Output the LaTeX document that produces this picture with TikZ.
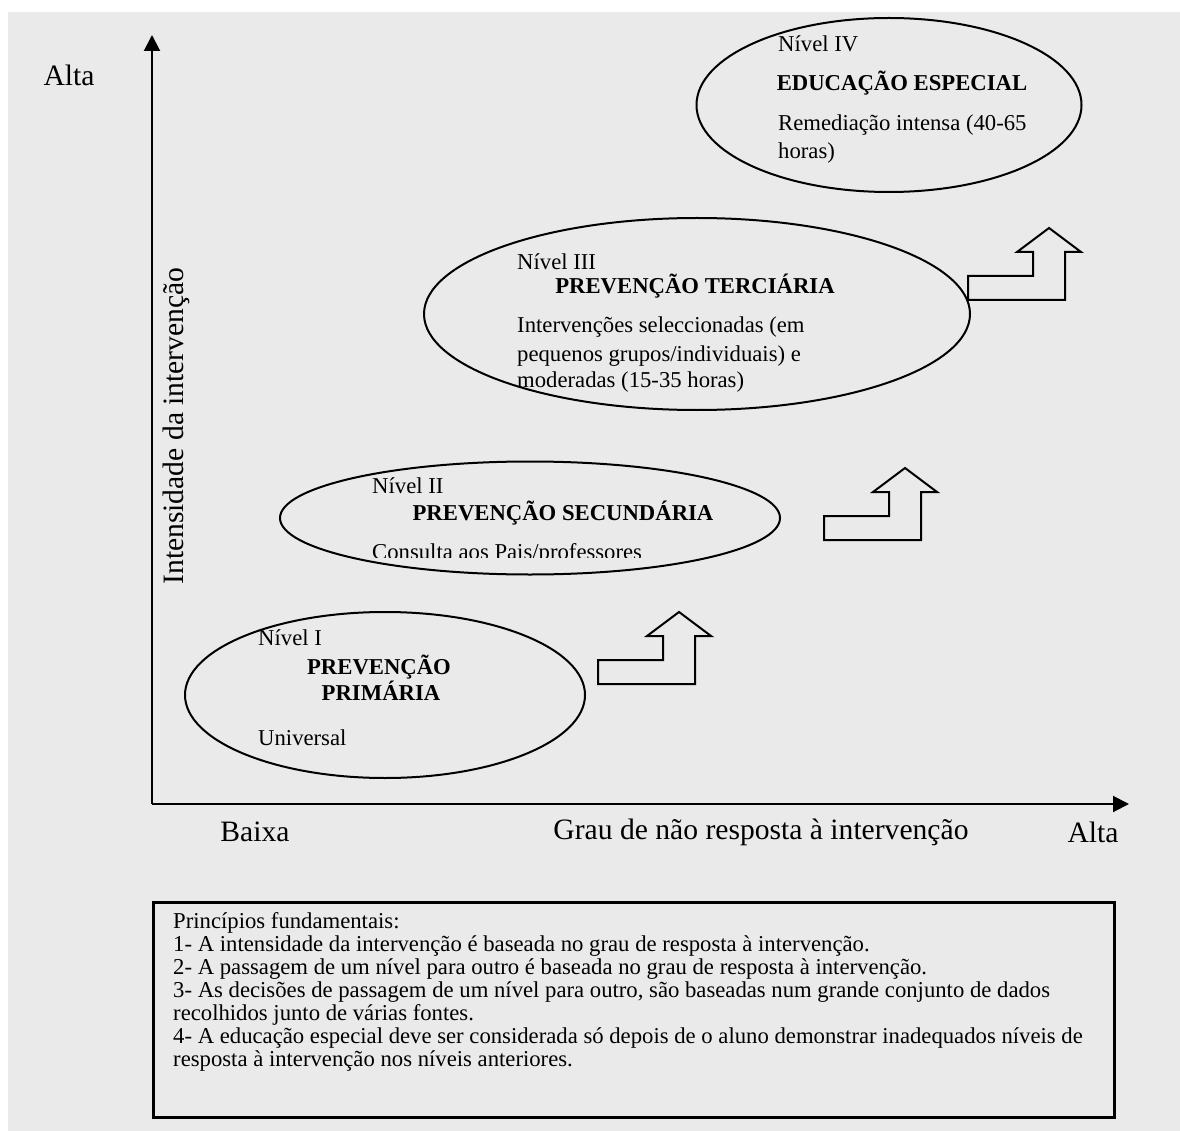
\documentclass[tikz,border=0pt]{standalone}
\usepackage{fontspec}
\setmainfont{Liberation Serif}
\usetikzlibrary{arrows.meta,shapes.geometric}

\definecolor{panel}{HTML}{EAEAEA}

\tikzset{
  axisline/.style={line width=2pt, -{Triangle[length=16pt,width=16pt]}},
  levelshape/.style={draw, ellipse, line width=2pt, inner sep=0pt},
  lbl/.style={font=\fontsize{22.7pt}{26pt}\selectfont, inner sep=0pt, anchor=base west},
  lblbold/.style={font=\fontsize{22.7pt}{26pt}\selectfont\bfseries, inner sep=0pt, anchor=base},
  axislbl/.style={font=\fontsize{29.6pt}{34pt}\selectfont, inner sep=0pt},
  boxtext/.style={font=\fontsize{22.7pt}{23pt}\selectfont, inner sep=0pt, anchor=base west},
  bentarrow/.pic={
    \draw[line width=2pt, line join=miter]
      (0,0) -- (97,0) -- (97,-48) -- (113,-48) -- (81,-72) -- (49,-48)
      -- (65,-48) -- (65,-24) -- (0,-24) -- cycle;
  }
}

\begin{document}
\begin{tikzpicture}[x=1pt,y=-1pt]
  % page and grey panel
  \useasboundingbox (0,0) rectangle (1180,1131);
  \fill[panel] (8,12) rectangle (1180,1131);

  % axes
  \coordinate (O) at (152,804);
  \coordinate (ytop) at (152,35);
  \coordinate (xend) at (1129,804);
  \draw[axisline] (O) -- (ytop);
  \draw[axisline] (O) -- (xend);

  \node[axislbl] (yhigh) at (69,75) {Alta};
  \node[axislbl] (xlow) at (255,832) {Baixa};
  \node[axislbl] (xname) at (761,832) {Grau de não resposta à intervenção};
  \node[axislbl] (xhigh) at (1093,832) {Alta};
  \node[axislbl, rotate=90] (yname) at (176,426) {Intensidade da intervenção};

  % the four levels
  \node[levelshape, minimum width=400pt, minimum height=166pt] (lvl1) at (385,695) {};
  \node[levelshape, minimum width=500pt, minimum height=113pt] (lvl2) at (530,518) {};
  \node[levelshape, minimum width=546pt, minimum height=192pt] (lvl3) at (697,314) {};
  \node[levelshape, minimum width=385pt, minimum height=174pt] (lvl4) at (889,105) {};

  % level I
  \node[lbl] (t1a) at (258,645) {Nível I};
  \node[lblbold] (t1b) at (379,674) {PREVENÇÃO};
  \node[lblbold] (t1c) at (381,700) {PRIMÁRIA};
  \node[lbl] (t1d) at (258,745) {Universal};

  % level II
  \node[lbl] (t2a) at (372,493) {Nível II};
  \node[lblbold] (t2b) at (563,520) {PREVENÇÃO SECUNDÁRIA};
  \begin{scope}
    \clip (300,530) rectangle (800,557);
    \node[lbl] (t2c) at (372,559) {Consulta aos Pais/professores};
  \end{scope}

  % level III
  \node[lbl] (t3a) at (517,270) {Nível III};
  \node[lblbold] (t3b) at (695,294) {PREVENÇÃO TERCIÁRIA};
  \node[lbl] (t3c) at (517,333) {Intervenções seleccionadas (em};
  \node[lbl] (t3d) at (517,361) {pequenos grupos/individuais) e};
  \node[lbl] (t3e) at (517,387) {moderadas (15-35 horas)};

  % level IV
  \node[lbl] (t4a) at (778,52) {Nível IV};
  \node[lblbold] (t4b) at (902,91) {EDUCAÇÃO ESPECIAL};
  \node[lbl] (t4c) at (778,131) {Remediação intensa (40-65};
  \node[lbl] (t4d) at (778,159) {horas)};

  % transitions between levels
  \pic at (598,684) {bentarrow};
  \pic at (824,540) {bentarrow};
  \pic at (968,300) {bentarrow};

  % principles
  \node[draw, line width=2.5pt, minimum width=961pt, minimum height=215pt,
        inner sep=0pt, anchor=north west] (principles) at (152,901) {};
  \node[boxtext] (p0) at (173,928) {Princípios fundamentais:};
  \node[boxtext] (p1) at (173,951) {1- A intensidade da intervenção é baseada no grau de resposta à intervenção.};
  \node[boxtext] (p2) at (173,974) {2- A passagem de um nível para outro é baseada no grau de resposta à intervenção.};
  \node[boxtext] (p3) at (173,997) {3- As decisões de passagem de um nível para outro, são baseadas num grande conjunto de dados};
  \node[boxtext] (p4) at (173,1020) {recolhidos junto de várias fontes.};
  \node[boxtext] (p5) at (173,1043) {4- A educação especial deve ser considerada só depois de o aluno demonstrar inadequados níveis de};
  \node[boxtext] (p6) at (173,1066) {resposta à intervenção nos níveis anteriores.};
\end{tikzpicture}
\end{document}
